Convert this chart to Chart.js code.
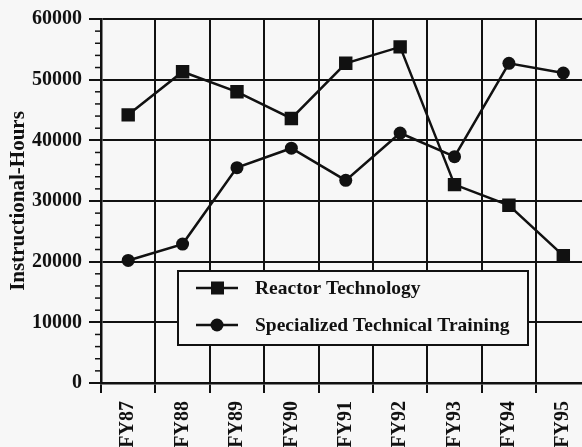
<!DOCTYPE html>
<html>
<head>
<meta charset="utf-8">
<script src="https://cdn.jsdelivr.net/npm/chart.js@4/dist/chart.umd.min.js"></script>
<style>
  html, body { margin: 0; padding: 0; background: #f7f7f7; overflow: hidden; }
  #cadre { width: 582px; height: 447px; overflow: hidden; }
</style>
</head>
<body>
<div id="cadre"><canvas id="chartHeures" width="600" height="447"></canvas></div>
<script>
const annees = ["FY87", "FY88", "FY89", "FY90", "FY91", "FY92", "FY93", "FY94", "FY95"];
const reacteur = [44200, 51300, 48000, 43600, 52700, 55400, 32700, 29300, 21000];
const specialise = [20200, 22900, 35500, 38700, 33400, 41200, 37300, 52700, 51100];
const nomReacteur = "Reactor Technology";
const nomSpecialise = "Specialized Technical Training";

const encre = "#111";
const police = "Liberation Serif";

// petits traits entre les graduations principales
const petitsTraits = {
  id: "petitsTraits",
  afterDraw(chart) {
    const echelle = chart.scales.y;
    const ctx = chart.ctx;
    ctx.save();
    ctx.strokeStyle = encre;
    ctx.lineWidth = 1.5;
    for (let v = 0; v <= echelle.max; v += 2000) {
      if (v % 10000 === 0) continue;
      const py = echelle.getPixelForValue(v);
      ctx.beginPath();
      ctx.moveTo(echelle.right - 6, py);
      ctx.lineTo(echelle.right, py);
      ctx.stroke();
    }
    ctx.restore();
  }
};

// légende encadrée dans la zone du graphique
const legendeBoite = {
  id: "legendeBoite",
  afterDraw(chart) {
    const ctx = chart.ctx;
    const x0 = 178, y0 = 271, w = 350, h = 74;
    ctx.save();
    ctx.fillStyle = "#f7f7f7";
    ctx.fillRect(x0, y0, w, h);
    ctx.strokeStyle = encre;
    ctx.lineWidth = 2;
    ctx.strokeRect(x0, y0, w, h);

    chart.data.datasets.forEach((ds, i) => {
      const ly = y0 + 17 + i * 37;
      ctx.beginPath();
      ctx.lineWidth = 2.5;
      ctx.moveTo(x0 + 18, ly);
      ctx.lineTo(x0 + 60, ly);
      ctx.stroke();
      ctx.fillStyle = encre;
      if (ds.pointStyle === "rect") {
        ctx.fillRect(x0 + 33, ly - 6.5, 13, 13);
      } else {
        ctx.beginPath();
        ctx.arc(x0 + 39, ly, 6.5, 0, Math.PI * 2);
        ctx.fill();
      }
      ctx.font = "bold 19.5px " + police;
      ctx.textBaseline = "middle";
      ctx.textAlign = "left";
      ctx.fillText(ds.label, x0 + 77, ly + 1);
    });
    ctx.restore();
  }
};

const ctx = document.getElementById("chartHeures").getContext("2d");

new Chart(ctx, {
  type: "line",
  data: {
    labels: annees,
    datasets: [
      {
        label: nomReacteur,
        data: reacteur,
        borderColor: encre,
        backgroundColor: encre,
        borderWidth: 2.5,
        pointStyle: "rect",
        pointRadius: 9.5,
        pointBorderWidth: 0,
        tension: 0
      },
      {
        label: nomSpecialise,
        data: specialise,
        borderColor: encre,
        backgroundColor: encre,
        borderWidth: 2.5,
        pointStyle: "circle",
        pointRadius: 6.5,
        pointBorderWidth: 0,
        tension: 0
      }
    ]
  },
  options: {
    responsive: false,
    animation: false,
    layout: { padding: { top: 16, right: 6, left: 0, bottom: 0 } },
    plugins: {
      legend: { display: false },
      tooltip: { enabled: false }
    },
    scales: {
      x: {
        offset: true,
        grid: {
          offset: true,
          color: encre,
          lineWidth: 2,
          tickLength: 10,
          tickColor: encre
        },
        border: { color: encre, width: 2.5 },
        ticks: {
          color: encre,
          font: { family: police, size: 20, weight: "bold" },
          minRotation: 90,
          maxRotation: 90,
          padding: 8
        },
        afterFit(scale) { scale.height = 64; }
      },
      y: {
        min: 0,
        max: 60000,
        ticks: {
          stepSize: 10000,
          color: encre,
          font: { family: police, size: 20, weight: "bold" },
          padding: 7,
          callback: v => String(v)
        },
        grid: {
          color: encre,
          lineWidth: 2,
          tickLength: 12,
          tickColor: encre
        },
        border: { color: encre, width: 2.5 },
        title: {
          display: true,
          text: "Instructional-Hours",
          color: encre,
          font: { family: police, size: 21, weight: "bold" },
          padding: { top: 6, bottom: 0 }
        },
        afterFit(scale) { scale.width = 101; }
      }
    }
  },
  plugins: [petitsTraits, legendeBoite]
});
</script>
</body>
</html>
